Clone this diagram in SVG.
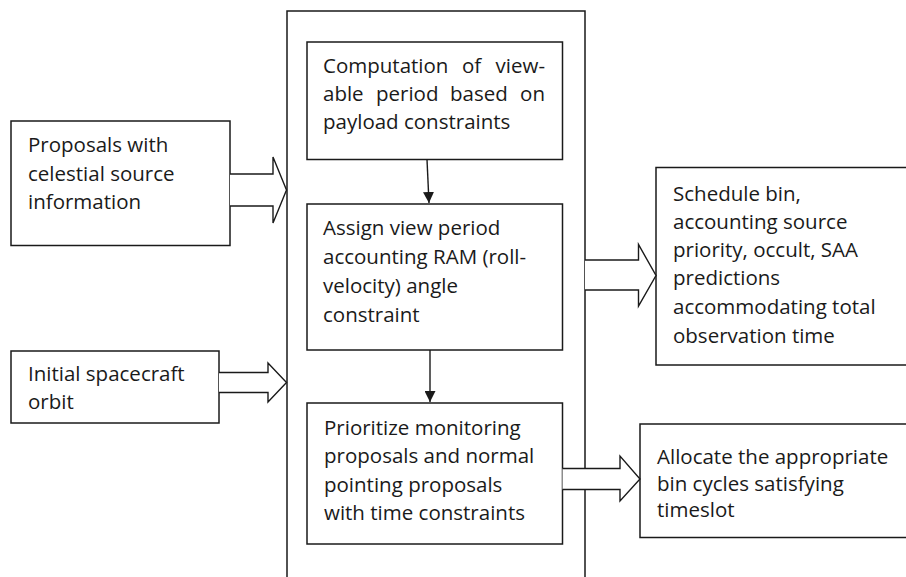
<svg xmlns="http://www.w3.org/2000/svg" width="906" height="577" viewBox="0 0 906 577">
<defs>
<style>
.box{fill:#fff;stroke:#1a1a1a;stroke-width:1.5}
.cont{fill:none;stroke:#1a1a1a;stroke-width:1.5}
.blk{fill:#fff;stroke:#1a1a1a;stroke-width:1.4;stroke-linejoin:miter}
.ln{fill:none;stroke:#1a1a1a;stroke-width:1.4}
text{font-family:"Open Sans","Noto Sans","Liberation Sans",sans-serif;font-size:20.5px;fill:#1a1a1a}
</style>
<marker id="ah" viewBox="0 0 10 10" refX="10" refY="5" markerWidth="11" markerHeight="11" markerUnits="userSpaceOnUse" orient="auto">
<path d="M0,0 L10,5 L0,10 Z" fill="#1a1a1a"/>
</marker>
</defs>
<rect width="906" height="577" fill="#fff"/>

<g id="container">
<path class="cont" d="M287,577 L287,11 L585,11 L585,577"/>
</g>

<g id="n-proposals">
<rect class="box" x="11" y="121" width="219" height="124.5"/>
<text x="28" y="152">Proposals with</text>
<text x="28" y="181">celestial source</text>
<text x="28" y="209">information</text>
</g>

<g id="n-orbit">
<rect class="box" x="11" y="351" width="208" height="72"/>
<text x="28" y="381">Initial spacecraft</text>
<text x="28" y="409">orbit</text>
</g>

<g id="n-computation">
<rect class="box" x="307" y="42" width="255.5" height="117.5"/>
<text x="323" y="73">Computation</text>
<text x="462" y="73">of</text>
<text x="545" y="73" text-anchor="end">view-</text>
<text x="323" y="101">able</text>
<text x="376" y="101">period</text>
<text x="450" y="101">based</text>
<text x="545" y="101" text-anchor="end">on</text>
<text x="323" y="129">payload constraints</text>
</g>

<g id="n-assign">
<rect class="box" x="307" y="204" width="255.5" height="146"/>
<text x="323" y="235">Assign view period</text>
<text x="323" y="264">accounting RAM (roll-</text>
<text x="323" y="293">velocity) angle</text>
<text x="323" y="322">constraint</text>
</g>

<g id="n-prioritize">
<rect class="box" x="307" y="403" width="255.5" height="141"/>
<text x="324" y="435">Prioritize monitoring</text>
<text x="324" y="463">proposals and normal</text>
<text x="324" y="492">pointing proposals</text>
<text x="324" y="520">with time constraints</text>
</g>

<g id="n-schedule">
<rect class="box" x="656" y="167.5" width="260" height="197.5"/>
<text x="673" y="201">Schedule bin,</text>
<text x="673" y="229">accounting source</text>
<text x="673" y="257">priority, occult, SAA</text>
<text x="673" y="285">predictions</text>
<text x="673" y="314">accommodating total</text>
<text x="673" y="343">observation time</text>
</g>

<g id="n-allocate">
<rect class="box" x="640" y="424" width="276" height="113.5"/>
<text x="657" y="464">Allocate the appropriate</text>
<text x="657" y="491">bin cycles satisfying</text>
<text x="657" y="517">timeslot</text>
</g>

<g id="connectors">
<line class="ln" x1="427" y1="159.5" x2="429" y2="203" marker-end="url(#ah)"/>
<line class="ln" x1="430" y1="350" x2="430" y2="402" marker-end="url(#ah)"/>
<path class="blk" d="M230,174 L273,174 L273,157 L286.5,190 L273,223 L273,206 L230,206"/>
<path class="blk" d="M219,372.5 L268,372.5 L268,363 L286.5,382.5 L268,402 L268,392.5 L219,392.5"/>
<path class="blk" d="M585,260 L638.5,260 L638.5,244.5 L656,275.5 L638.5,306 L638.5,290 L585,290"/>
<path class="blk" d="M562.5,468.5 L620,468.5 L620,456 L640,479 L620,501 L620,489.5 L562.5,489.5"/>
</g>
</svg>
